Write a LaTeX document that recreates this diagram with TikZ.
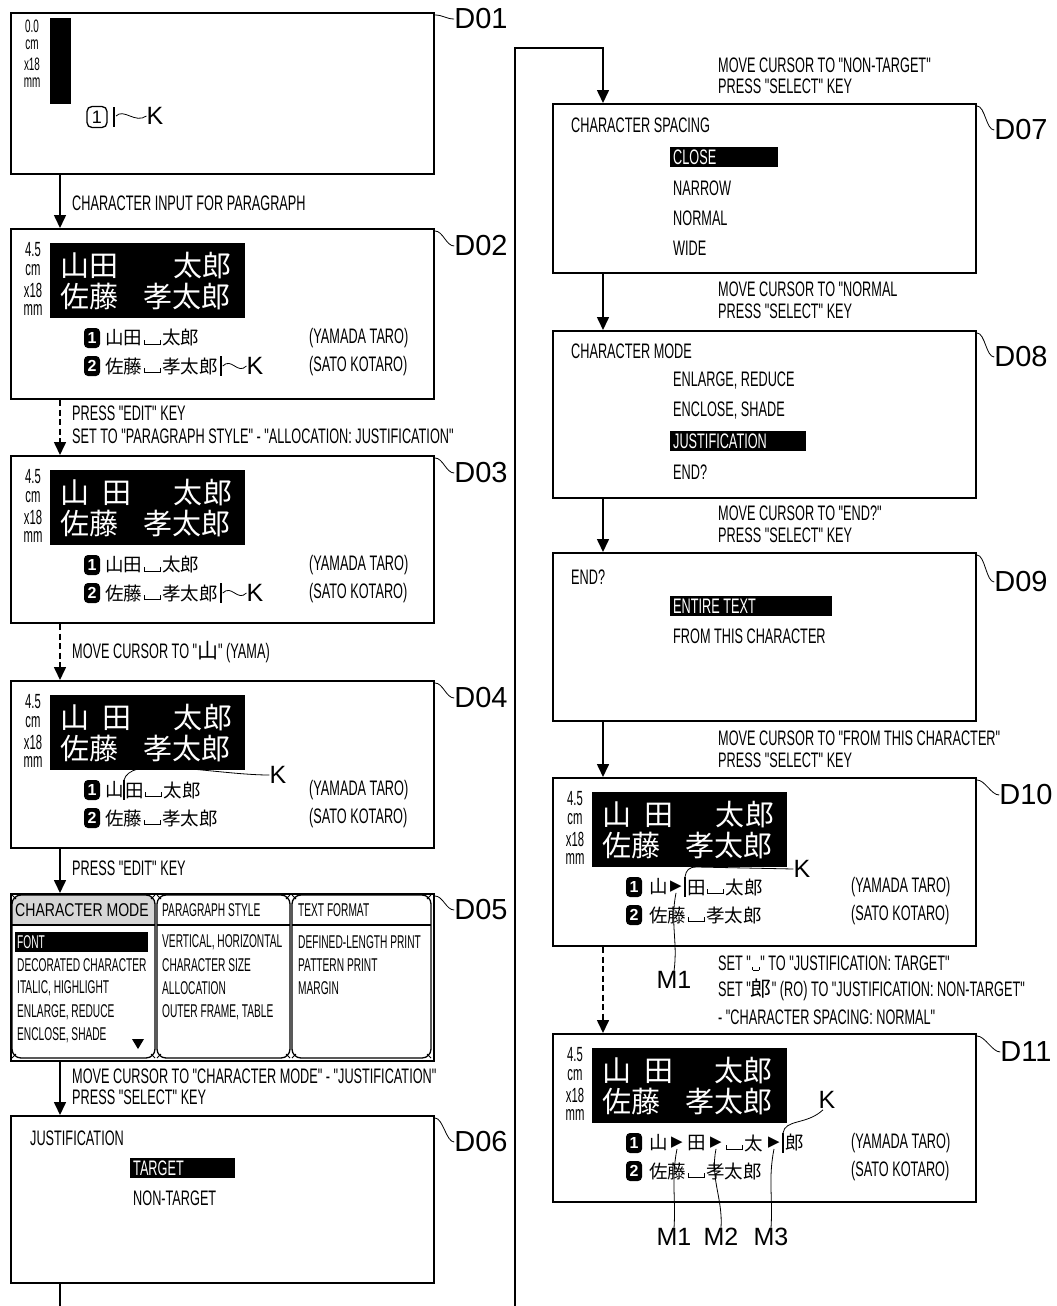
\documentclass[tikz,border=0pt]{standalone}
\usepackage{fontspec}
\setmainfont{Liberation Sans}
\newfontfamily\cond[FakeStretch=0.605]{Liberation Sans}
\newfontfamily\condn[FakeStretch=0.55]{Liberation Sans}
\newfontfamily\condt[FakeStretch=0.55]{Liberation Sans}
\newfontfamily\condw[FakeStretch=0.76]{Liberation Sans}
\newfontfamily\cjk{Noto Sans CJK JP}
\newfontfamily\dvs{DejaVu Sans}
\usetikzlibrary{arrows.meta,calc}
\newcommand\spmark{\kern1.5pt\rule{0.9pt}{5pt}\rule{15pt}{0.9pt}\rule{0.9pt}{5pt}\kern1.5pt}
\newcommand\spmarks{\kern1pt\rule{0.7pt}{3pt}\rule{6pt}{0.7pt}\rule{0.7pt}{3pt}\kern1pt}
\tikzset{
 screen/.style={draw,line width=2,minimum width=423,minimum height=#1,anchor=north west,inner sep=0},
 lbl/.style={font=\cond\fontsize{21}{21}\selectfont,anchor=west,inner sep=0},
 dlbl/.style={font=\fontsize{29}{29}\selectfont,inner sep=0},
 klbl/.style={font=\fontsize{25}{25}\selectfont,inner sep=0},
 menu/.style={font=\cond\fontsize{21}{21}\selectfont,anchor=west,inner sep=0},
 tabt/.style={font=\condn\fontsize{18.5}{18.5}\selectfont,anchor=west,inner sep=0},
 big/.style={font=\cjk\fontsize{29}{29}\selectfont,text=white,inner sep=0},
 sm/.style={font=\cjk\fontsize{18.5}{18.5}\selectfont,inner sep=0,anchor=west},
 stkf/.style={font=\condt\fontsize{20.5}{20.5}\selectfont,inner sep=0},
 stkd/.style={font=\condt\fontsize{18}{18}\selectfont,inner sep=0},
 num/.style={fill=black,text=white,rounded corners=4,inner sep=0,minimum width=16,minimum height=20,font=\bfseries\fontsize{16}{16}\selectfont},
 numo/.style={draw,line width=1.3,rounded corners=5,inner sep=0,minimum width=20,minimum height=21,font=\fontsize{18}{18}\selectfont},
 trig/.style={font=\dvs\fontsize{15}{15}\selectfont,inner sep=0},
 arr/.style={line width=1.6,-{Triangle[width=12pt,length=13pt]}},
 darr/.style={arr,dash pattern=on 6pt off 3.5pt},
 lead/.style={line width=0.8},
 curs/.style={line width=2.2},
}
\newcommand\sizestk[2]{%
 \node[stkf] (#1s1) at (23,22) {#2};
 \node[stkf] (#1s2) at (23,42) {cm};
 \node[stkf] (#1s3) at (23,62) {x18};
 \node[stkf] (#1s4) at (23,82) {mm};
 \fill (40,15) rectangle (235,90);}
\newcommand\rowtwo[1]{%
 \node[big,anchor=west] (#1e) at (50,69) {佐藤};
 \node[big,anchor=east] (#1f) at (221,69) {孝太郎};}
\newcommand\rowtight[1]{%
 \node[big] (#1a) at (64.5,38) {山};
 \node[big] (#1b) at (93.5,38) {田};
 \node[big] (#1c) at (177.5,38) {太};
 \node[big] (#1d) at (206.5,38) {郎};}
\newcommand\rowjust[1]{%
 \node[big] (#1a) at (65,38) {山};
 \node[big] (#1b) at (107,38) {田};
 \node[big] (#1c) at (178,38) {太};
 \node[big] (#1d) at (208,38) {郎};}
\newcommand\listbase[1]{%
 \node[num] (#1n1) at (82,110) {1};
 \node[num] (#1n2) at (82,138) {2};
 \node[menu] (#1y) at (299,110) {(YAMADA TARO)};
 \node[menu] (#1z) at (299,138) {(SATO KOTARO)};}
\begin{document}
\begin{tikzpicture}[x=1pt,y=-1pt]
\useasboundingbox (0,0) rectangle (1057,1306);
% ---------- screens ----------
\node[screen=161] (D01) at (10,12) {};
\node[screen=170] (D02) at (10,228) {};
\node[screen=167] (D03) at (10,455) {};
\node[screen=167] (D04) at (10,680) {};
\node[screen=167] (D05) at (10,893) {};
\node[screen=167] (D06) at (10,1115) {};
\node[screen=169] (D07) at (552,103) {};
\node[screen=167] (D08) at (552,330) {};
\node[screen=168] (D09) at (552,552) {};
\node[screen=168] (D10) at (552,777) {};
\node[screen=168] (D11) at (552,1033) {};
% ---------- D labels ----------
\node[dlbl] (L01) at (481,19) {D01};
\node[dlbl] (L02) at (481,246) {D02};
\node[dlbl] (L03) at (481,473) {D03};
\node[dlbl] (L04) at (481,698) {D04};
\node[dlbl] (L05) at (481,910) {D05};
\node[dlbl] (L06) at (481,1142) {D06};
\node[dlbl] (L07) at (1021,130) {D07};
\node[dlbl] (L08) at (1021,357) {D08};
\node[dlbl] (L09) at (1021,582) {D09};
\node[dlbl] (L10) at (1026,795) {D10};
\node[dlbl] (L11) at (1026,1052) {D11};
\foreach \i in {01,02,03,04,05,06,07,08,09,10,11}
  \draw[lead] ($(D\i.north east)+(0,3)$) .. controls +(8,0) and +(-8,0) .. (L\i.west);
% ---------- D01 ----------
\begin{scope}[shift={(10,12)}]
 \node[stkd] (d1s1) at (22,14) {0.0};
 \node[stkd] (d1s2) at (22,33) {cm};
 \node[stkd] (d1s3) at (22,52) {x18};
 \node[stkd] (d1s4) at (22,71) {mm};
 \fill (40,6) rectangle (61,92);
 \node[numo] (d1n) at (87,105) {1};
 \draw[curs] (104,95) -- (104,115);
 \node[klbl] (d1k) at (145,104) {K};
 \draw[lead] (106,104) .. controls (114,96) and (125,112) .. (d1k.west);
\end{scope}
% ---------- D02 ----------
\begin{scope}[shift={(10,228)}]
 \sizestk{d2}{4.5}
 \rowtight{d2}
 \rowtwo{d2}
 \listbase{d2}
 \node[sm] (d2g) at (95,110) {山田\spmark 太郎};
 \node[sm] (d2h) at (95,138) {佐藤\spmark 孝太郎};
 \draw[curs] ($(d2h.east)+(3,-10)$) -- +(0,20);
 \node[klbl] (d2k) at (245,138) {K};
 \draw[lead] ($(d2h.east)+(5,0)$) .. controls +(9,-9) and +(-9,9) .. (d2k.west);
\end{scope}
% ---------- D03 ----------
\begin{scope}[shift={(10,455)}]
 \sizestk{d3}{4.5}
 \rowjust{d3}
 \rowtwo{d3}
 \listbase{d3}
 \node[sm] (d3g) at (95,110) {山田\spmark 太郎};
 \node[sm] (d3h) at (95,138) {佐藤\spmark 孝太郎};
 \draw[curs] ($(d3h.east)+(3,-10)$) -- +(0,20);
 \node[klbl] (d3k) at (245,138) {K};
 \draw[lead] ($(d3h.east)+(5,0)$) .. controls +(9,-9) and +(-9,9) .. (d3k.west);
\end{scope}
% ---------- D04 ----------
\begin{scope}[shift={(10,680)}]
 \sizestk{d4}{4.5}
 \rowjust{d4}
 \rowtwo{d4}
 \listbase{d4}
 \node[sm] (d4g) at (95,110) {山};
 \draw[curs] (114,100) -- (114,120);
 \node[sm] (d4h) at (115,110) {田\spmark 太郎};
 \node[klbl] (d4k) at (268,95) {K};
 \draw[lead] (114,100) .. controls (117,89) and (134,86) .. (154,87) .. controls (192,89) and (230,95) .. (d4k.west);
 \node[sm] (d4i) at (95,138) {佐藤\spmark 孝太郎};
\end{scope}
% ---------- D05 ----------
\begin{scope}[shift={(10,893)}]
 \begin{scope}
  \clip[rounded corners=9] (2,2) rectangle (145,165);
  \fill[black!16] (2,2) rectangle (145,32);
 \end{scope}
 \foreach \a/\b in {2/145,147/280,282/421} {
  \draw[line width=1.3,rounded corners=9] (\a,2) rectangle (\b,165);
  \draw[line width=1.3] (\a,32) -- (\b,32);
  \draw[line width=0.9] (\a,2) -- +(4,4) (\b,2) -- +(-4,4) (\a,165) -- +(4,-4) (\b,165) -- +(-4,-4);
 }
 \node[tabt,font=\condw\fontsize{18.5}{18.5}\selectfont] (d5h1) at (5,17) {CHARACTER MODE};
 \node[tabt] (d5h2) at (152,17) {PARAGRAPH STYLE};
 \node[tabt] (d5h3) at (288,17) {TEXT FORMAT};
 \fill (5,39) rectangle (138,59);
 \node[tabt,text=white] (d5a1) at (7,49) {FONT};
 \node[tabt] (d5a2) at (7,72) {DECORATED CHARACTER};
 \node[tabt] (d5a3) at (7,95) {ITALIC, HIGHLIGHT};
 \node[tabt] (d5a4) at (7,119) {ENLARGE, REDUCE};
 \node[tabt] (d5a5) at (7,142) {ENCLOSE, SHADE};
 \fill (122,146) -- (134,146) -- (128,156) -- cycle;
 \node[tabt] (d5b1) at (152,49) {VERTICAL, HORIZONTAL};
 \node[tabt] (d5b2) at (152,72) {CHARACTER SIZE};
 \node[tabt] (d5b3) at (152,95) {ALLOCATION};
 \node[tabt] (d5b4) at (152,119) {OUTER FRAME, TABLE};
 \node[tabt] (d5c1) at (288,49) {DEFINED-LENGTH PRINT};
 \node[tabt] (d5c2) at (288,72) {PATTERN PRINT};
 \node[tabt] (d5c3) at (288,95) {MARGIN};
\end{scope}
% ---------- D06 ----------
\begin{scope}[shift={(10,1115)}]
 \node[menu] (d6t) at (20,23) {JUSTIFICATION};
 \fill (120,43) rectangle (225,63);
 \node[menu,text=white] (d6a) at (123,53) {TARGET};
 \node[menu] (d6b) at (123,83) {NON-TARGET};
\end{scope}
% ---------- D07 ----------
\begin{scope}[shift={(552,103)}]
 \node[menu] (d7t) at (19,22) {CHARACTER SPACING};
 \fill (118,44) rectangle (226,64);
 \node[menu,text=white] (d7a) at (121,54) {CLOSE};
 \node[menu] (d7b) at (121,85) {NARROW};
 \node[menu] (d7c) at (121,115) {NORMAL};
 \node[menu] (d7d) at (121,145) {WIDE};
\end{scope}
% ---------- D08 ----------
\begin{scope}[shift={(552,330)}]
 \node[menu] (d8t) at (19,21) {CHARACTER MODE};
 \node[menu] (d8a) at (121,51) {ENLARGE, REDUCE};
 \node[menu] (d8b) at (121,81) {ENCLOSE, SHADE};
 \fill (118,101) rectangle (254,121);
 \node[menu,text=white] (d8c) at (121,111) {JUSTIFICATION};
 \node[menu] (d8d) at (121,142) {END?};
\end{scope}
% ---------- D09 ----------
\begin{scope}[shift={(552,552)}]
 \node[menu] (d9t) at (19,25) {END?};
 \fill (118,44) rectangle (280,64);
 \node[menu,text=white] (d9a) at (121,54) {ENTIRE TEXT};
 \node[menu] (d9b) at (121,84) {FROM THIS CHARACTER};
\end{scope}
% ---------- D10 ----------
\begin{scope}[shift={(552,777)}]
 \sizestk{d10}{4.5}
 \rowjust{d10}
 \rowtwo{d10}
 \listbase{d10}
 \node[sm] (d10g) at (97,110) {山};
 \node[trig] (d10t1) at (124,110) {▶};
 \draw[curs] (133,100) -- (133,120);
 \node[sm] (d10h) at (135,110) {田\spmark 太郎};
 \node[klbl] (d10k) at (250,92) {K};
 \draw[lead] (133,100) .. controls (134,93) and (137,90) .. (145,90) -- (d10k.west);
 \node[sm] (d10i) at (97,138) {佐藤\spmark 孝太郎};
 \node[klbl] (d10m1) at (122,203) {M1};
 \draw[lead] (d10t1.south) .. controls +(-6,30) and +(4,-30) .. (d10m1.north);
\end{scope}
% ---------- D11 ----------
\begin{scope}[shift={(552,1033)}]
 \sizestk{d11}{4.5}
 \node[big] (d11a) at (65,38) {山};
 \node[big] (d11b) at (107,38) {田};
 \node[big,anchor=east] (d11c) at (221,38) {太郎};
 \rowtwo{d11}
 \listbase{d11}
 \node[sm] (d11g) at (97,110) {山};
 \node[trig] (d11t1) at (125,110) {▶};
 \node[sm] (d11h) at (135,110) {田};
 \node[trig] (d11t2) at (164,110) {▶};
 \node[sm] (d11i) at (172,110) {\spmark 太};
 \node[trig] (d11t3) at (222,110) {▶};
 \draw[curs] (231,100) -- (231,120);
 \node[sm] (d11j) at (233,110) {郎};
 \node[klbl] (d11k) at (275,67) {K};
 \draw[lead] (231,100) .. controls (233,86) and (255,92) .. ($(d11k.south)+(-4,1)$);
 \node[sm] (d11l) at (97,138) {佐藤\spmark 孝太郎};
 \node[klbl] (d11m1) at (122,204) {M1};
 \node[klbl] (d11m2) at (169,204) {M2};
 \node[klbl] (d11m3) at (219,204) {M3};
 \draw[lead] (d11t1.south) .. controls +(-6,30) and +(2,-30) .. (d11m1.north);
 \draw[lead] (d11t2.south) .. controls +(-6,30) and +(2,-30) .. (d11m2.north);
 \draw[lead] (d11t3.south) .. controls +(-6,30) and +(2,-30) .. (d11m3.north);
\end{scope}
% ---------- connectors ----------
\draw[arr]  ($(D01.south west)+(50,0)$) -- ($(D02.north west)+(50,0)$);
\draw[darr] ($(D02.south west)+(50,0)$) -- ($(D03.north west)+(50,0)$);
\draw[darr] ($(D03.south west)+(50,0)$) -- ($(D04.north west)+(50,0)$);
\draw[arr]  ($(D04.south west)+(50,0)$) -- ($(D05.north west)+(50,0)$);
\draw[arr]  ($(D05.south west)+(50,0)$) -- ($(D06.north west)+(50,0)$);
\coordinate (fbA) at (60,1306);
\coordinate (fbB) at (515,1306);
\coordinate (fbC) at (515,48);
\draw[line width=1.6] ($(D06.south west)+(50,0)$) -- (fbA);
\draw[arr] (fbB) -- (fbC) -| ($(D07.north west)+(51,0)$);
\draw[arr]  ($(D07.south west)+(51,0)$) -- ($(D08.north west)+(51,0)$);
\draw[arr]  ($(D08.south west)+(51,0)$) -- ($(D09.north west)+(51,0)$);
\draw[arr]  ($(D09.south west)+(51,0)$) -- ($(D10.north west)+(51,0)$);
\draw[darr] ($(D10.south west)+(51,0)$) -- ($(D11.north west)+(51,0)$);
% ---------- connector labels ----------
\node[lbl] (a1) at (72,203) {CHARACTER INPUT FOR PARAGRAPH};
\node[lbl] (a2) at (72,413) {PRESS "EDIT" KEY};
\node[lbl] (a3) at (72,436) {SET TO "PARAGRAPH STYLE" - "ALLOCATION: JUSTIFICATION"};
\node[lbl] (a4) at (72,652) {MOVE CURSOR TO "{\cjk 山}" (YAMA)};
\node[lbl] (a5) at (72,868) {PRESS "EDIT" KEY};
\node[lbl] (a6) at (72,1076) {MOVE CURSOR TO "CHARACTER MODE" - "JUSTIFICATION"};
\node[lbl] (a7) at (72,1097) {PRESS "SELECT" KEY};
\node[lbl] (b1) at (718,65) {MOVE CURSOR TO "NON-TARGET"};
\node[lbl] (b2) at (718,86) {PRESS "SELECT" KEY};
\node[lbl] (b3) at (718,289) {MOVE CURSOR TO "NORMAL};
\node[lbl] (b4) at (718,311) {PRESS "SELECT" KEY};
\node[lbl] (b5) at (718,513) {MOVE CURSOR TO "END?"};
\node[lbl] (b6) at (718,535) {PRESS "SELECT" KEY};
\node[lbl] (b7) at (718,738) {MOVE CURSOR TO "FROM THIS CHARACTER"};
\node[lbl] (b8) at (718,760) {PRESS "SELECT" KEY};
\node[lbl] (b9) at (718,963) {SET "\spmarks" TO "JUSTIFICATION: TARGET"};
\node[lbl] (b10) at (718,990) {SET "{\cjk 郎}" (RO) TO "JUSTIFICATION: NON-TARGET"};
\node[lbl] (b11) at (718,1017) {- "CHARACTER SPACING: NORMAL"};
\end{tikzpicture}
\end{document}
